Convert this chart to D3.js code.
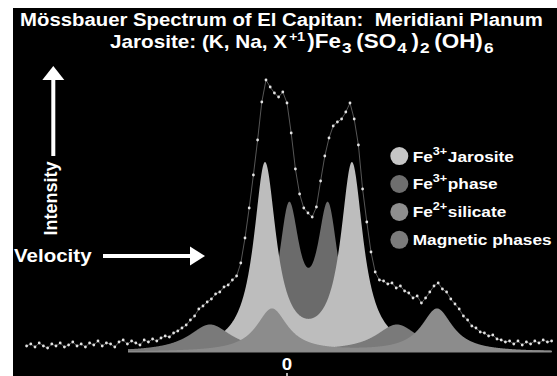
<!DOCTYPE html>
<html>
<head>
<meta charset="utf-8">
<script src="https://cdn.jsdelivr.net/npm/d3@7"></script>
<style>
  html, body { margin: 0; padding: 0; background: #fff; }
  svg { display: block; }
  text { font-family: "Liberation Sans", Arial, sans-serif; font-weight: bold; fill: #fff; }
</style>
</head>
<body>
<svg id="chart" width="557" height="376"></svg>
<script>
// Measured spectrum: channel velocity (mm/s) and counts above the baseline
const velocity = [
  -4.34, -4.27, -4.20, -4.13, -4.06, -3.99, -3.92, -3.85, -3.78, -3.71,
  -3.64, -3.57, -3.50, -3.43, -3.36, -3.29, -3.22, -3.15, -3.08, -3.01,
  -2.94, -2.87, -2.80, -2.73, -2.66, -2.59, -2.52, -2.45, -2.38, -2.31,
  -2.24, -2.17, -2.10, -2.03, -1.96, -1.89, -1.82, -1.75, -1.68, -1.61,
  -1.54, -1.47, -1.40, -1.33, -1.26, -1.19, -1.12, -1.05, -0.98, -0.91,
  -0.84, -0.77, -0.70, -0.63, -0.56, -0.49, -0.42, -0.35, -0.28, -0.21,
  -0.14, -0.07, 0.00, 0.07, 0.14, 0.21, 0.28, 0.35, 0.42, 0.49,
  0.56, 0.63, 0.70, 0.77, 0.84, 0.91, 0.98, 1.05, 1.12, 1.19,
  1.26, 1.33, 1.40, 1.47, 1.54, 1.61, 1.68, 1.75, 1.82, 1.89,
  1.96, 2.03, 2.10, 2.17, 2.24, 2.31, 2.38, 2.45, 2.52, 2.59,
  2.66, 2.73, 2.80, 2.87, 2.94, 3.01, 3.08, 3.15, 3.22, 3.29,
  3.36, 3.43, 3.50, 3.57, 3.64, 3.71, 3.78, 3.85, 3.92, 3.99,
  4.06, 4.13, 4.20, 4.27, 4.34, 4.41
];
const counts = [
  6, 8, 5, 9, 6, 4, 8, 6, 9, 5,
  7, 10, 6, 8, 5, 9, 7, 11, 6, 9,
  8, 5, 10, 12, 8, 11, 9, 7, 12, 10,
  13, 11, 14, 16, 15, 19, 21, 24, 27, 32,
  36, 43, 46, 50, 53, 58, 60, 65, 67, 72,
  76, 89, 114, 144, 177, 212, 250, 272, 265, 259,
  255, 260, 249, 219, 183, 158, 144, 139, 135, 145,
  171, 196, 214, 226, 230, 233, 240, 249, 233, 207,
  163, 130, 100, 80, 72, 71, 68, 69, 64, 66,
  61, 59, 54, 56, 49, 54, 60, 66, 69, 63,
  60, 53, 48, 43, 36, 32, 26, 24, 20, 19,
  16, 17, 13, 12, 10, 11, 8, 11, 7, 10,
  8, 11, 9, 12, 10, 11
];

// Fitted Lorentzian lines: centre (mm/s), peak height (counts), half width (mm/s)
const jarositeLines = [{ v: -0.367, h: 185.5, w: 0.227 }, { v: 1.083, h: 185.5, w: 0.227 }];
const fe3PhaseLines = [{ v: 0.033, h: 136.5, w: 0.217 }, { v: 0.683, h: 136.5, w: 0.217 }];
const silicateLines = [{ v: -0.25, h: 43, w: 0.317 }, { v: 2.5, h: 43, w: 0.317 }];
const magneticLines = [{ v: -1.283, h: 27, w: 0.433 }, { v: 1.833, h: 27, w: 0.433 }];
const fitRange = [-2.65, 4.41];

// Legend entries (label base, superscript, remainder) and colours
const componentNames = [
  ["Fe", "3+", "Jarosite"],
  ["Fe", "3+", "phase"],
  ["Fe", "2+", "silicate"],
  ["", "", "Magnetic phases"]
];
const componentColors = ["#bdbdbd", "#6b6b6b", "#8c8c8c", "#7a7a7a"];
const legendColors = ["#c6c6c6", "#6e6e6e", "#8e8e8e", "#7b7b7b"];
const xTickValues = [0];

const W = 557, H = 376;
const svg = d3.select("#chart");

svg.append("rect").attr("width", W).attr("height", H).attr("fill", "#fff");
svg.append("rect").attr("x", 13).attr("y", 8).attr("width", W - 13).attr("height", H - 8).attr("fill", "#000");

const x = d3.scaleLinear().domain([-4, 4]).range([47, 527]);
const y = d3.scaleLinear().domain([0, 280]).range([352, 72]);

const lorentz = (lines, v) => d3.sum(lines, l => l.h / (1 + ((v - l.v) / l.w) ** 2));
const fitV = d3.range(fitRange[0], fitRange[1] + 1e-9, 0.005);
const area = d3.area().x(d => x(d.v)).y0(y(0)).y1(d => y(d.i));

// painter's order: Fe3+ phase, jarosite, magnetic, silicate
const drawOrder = [
  { lines: fe3PhaseLines, color: componentColors[1] },
  { lines: jarositeLines, color: componentColors[0] },
  { lines: magneticLines, color: componentColors[3] },
  { lines: silicateLines, color: componentColors[2] }
];
drawOrder.forEach(c => {
  svg.append("path")
    .datum(fitV.map(v => ({ v, i: lorentz(c.lines, v) })))
    .attr("d", area)
    .attr("fill", c.color);
});

// baseline
svg.append("line")
  .attr("x1", x(fitRange[0])).attr("x2", x(fitRange[1]))
  .attr("y1", y(0)).attr("y2", y(0))
  .attr("stroke", "#8a8a8a").attr("stroke-width", 1.2);

// measured spectrum
const spectrum = velocity.map((v, i) => ({ v, c: counts[i] }));
svg.append("path")
  .datum(spectrum)
  .attr("d", d3.line().x(d => x(d.v)).y(d => y(d.c)))
  .attr("fill", "none").attr("stroke", "#6c6c6c").attr("stroke-width", 0.8);
svg.append("g").selectAll("circle").data(spectrum).join("circle")
  .attr("cx", d => x(d.v)).attr("cy", d => y(d.c)).attr("r", 1.4)
  .attr("fill", "#e2e2e2");

// velocity tick
xTickValues.forEach(t => {
  svg.append("g").attr("transform", `translate(${x(t)},370) scale(1.1,1)`)
    .append("text").attr("text-anchor", "middle").attr("font-size", 17).text(t);
  svg.append("line").attr("x1", x(t)).attr("x2", x(t)).attr("y1", 373).attr("y2", 376)
    .attr("stroke", "#ddd").attr("stroke-width", 1.6);
});

// title
svg.append("g").attr("transform", "translate(281.5,26) scale(1.13,1)")
  .append("text").attr("text-anchor", "middle").attr("font-size", 18)
  .style("white-space", "pre")
  .text("Mössbauer Spectrum of El Capitan:  Meridiani Planum");

const t2 = svg.append("g").attr("transform", "translate(110,48) scale(1.15,1)")
  .append("text").attr("font-size", 18);
const formula = [
  { s: "Jarosite: (K, Na, X", size: 18, dy: 0, dx: 0 },
  { s: "+1", size: 12, dy: -7, dx: 2 },
  { s: ")Fe", size: 19.5, dy: 7, dx: 2 },
  { s: "3", size: 15, dy: 5, dx: 1 },
  { s: "(SO", size: 19.5, dy: -5, dx: 4 },
  { s: "4", size: 15, dy: 5, dx: 1 },
  { s: ")", size: 19.5, dy: -5, dx: 4 },
  { s: "2", size: 15, dy: 5, dx: 1 },
  { s: "(OH)", size: 19.5, dy: -5, dx: 4 },
  { s: "6", size: 15, dy: 5, dx: 1 }
];
formula.forEach(p => {
  t2.append("tspan").attr("font-size", p.size).attr("dy", p.dy).attr("dx", p.dx).text(p.s);
});

// axis arrows
svg.append("rect").attr("x", 51.3).attr("y", 79).attr("width", 4).attr("height", 77).attr("fill", "#fff");
svg.append("path").attr("d", "M53.3,66 L42.3,80 L64.3,80 Z").attr("fill", "#fff");
svg.append("text").attr("transform", "translate(57,198.5) rotate(-90)")
  .attr("text-anchor", "middle").attr("font-size", 18).text("Intensity");

svg.append("rect").attr("x", 103).attr("y", 254).attr("width", 88).attr("height", 4).attr("fill", "#fff");
svg.append("path").attr("d", "M205,256 L190,246.5 L190,265.5 Z").attr("fill", "#fff");
svg.append("g").attr("transform", "translate(14,261.7) scale(1.14,1)")
  .append("text").attr("font-size", 18).text("Velocity");

// legend
componentNames.forEach((n, i) => {
  const by = 161.5 + 27.9 * i;
  svg.append("circle").attr("cx", 399.3).attr("cy", by - 5.4).attr("r", 9).attr("fill", legendColors[i]);
  const t = svg.append("g").attr("transform", `translate(412.7,${by}) scale(1.15,1)`)
    .append("text").attr("font-size", 15);
  if (n[0]) {
    t.append("tspan").text(n[0]);
    t.append("tspan").attr("font-size", 11).attr("dy", -7).text(n[1]);
    t.append("tspan").attr("dy", 7).attr("dx", 0.5).text(n[2]);
  } else {
    t.append("tspan").text(n[2]);
  }
});
</script>
</body>
</html>
